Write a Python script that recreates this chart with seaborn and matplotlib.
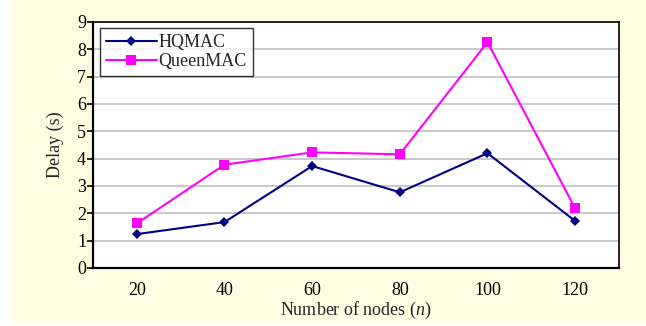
import matplotlib
matplotlib.use("Agg")
import matplotlib.pyplot as plt
import seaborn as sns
import pandas as pd
import numpy as np

nodes = ["20", "40", "60", "80", "100", "120"]
hqmac = [1.24, 1.68, 3.73, 2.77, 4.20, 1.72]
queenmac = [1.63, 3.78, 4.23, 4.16, 8.26, 2.18]

sns.set_theme(style="white")
plt.rcParams["font.family"] = ["Liberation Serif", "DejaVu Serif"]
plt.rcParams["mathtext.fontset"] = "custom"
plt.rcParams["mathtext.it"] = "Liberation Serif:italic"
plt.rcParams["mathtext.rm"] = "Liberation Serif"

FS = 13

df = pd.DataFrame({
    "nodes": nodes * 2,
    "delay": hqmac + queenmac,
    "series": ["HQMAC"] * len(nodes) + ["QueenMAC"] * len(nodes),
})

fig = plt.figure(figsize=(6.46, 3.26), dpi=100)
fig.patch.set_facecolor("white")
bg = plt.Rectangle((12 / 646, 3 / 326), 1 - 12 / 646, 1 - 3 / 326, transform=fig.transFigure,
                   facecolor="#FFFEE3", edgecolor="none", zorder=-10)
fig.patches.append(bg)

ax = fig.add_axes([93 / 646, 1 - 268 / 326, 526 / 646, 246 / 326])
ax.set_zorder(5)
ax.set_facecolor("white")

sns.lineplot(data=df, x="nodes", y="delay", hue="series", style="series",
             palette={"HQMAC": "#000080", "QueenMAC": "#FF00FF"},
             markers={"HQMAC": "D", "QueenMAC": "s"},
             dashes=False, markersize=7, linewidth=1.5,
             markeredgewidth=0, ax=ax, sort=False)
for line in ax.get_lines():
    if line.get_marker() == "D":
        line.set_markersize(5.5)

ax.set_xlim(-0.5, len(nodes) - 0.5)
ax.set_ylim(0, 9)
ax.set_yticks(range(0, 10))
ax.yaxis.grid(True, color="#C0C0C0", linewidth=1.2)
ax.set_axisbelow(True)
ax.set_xticks(range(len(nodes)))
ax.set_xticklabels(nodes)
ax.set_xticks(np.arange(-0.5, len(nodes)), minor=True)
ax.tick_params(axis="x", which="major", length=0, labelsize=FS, pad=10, colors="black")
ax.tick_params(axis="x", which="minor", length=4, width=1.2, direction="out", color="black")
ax.tick_params(axis="y", length=4, width=1.2, direction="out", labelsize=FS, pad=1, colors="black")
ax.tick_params(left=True, bottom=True)
for side in ["left", "bottom", "top", "right"]:
    ax.spines[side].set_visible(True)
    ax.spines[side].set_color("black")
ax.spines["left"].set_linewidth(1.6)
ax.spines["bottom"].set_linewidth(1.6)
ax.spines["top"].set_linewidth(1.2)
ax.spines["right"].set_linewidth(1.2)

ax.set_xlabel("Number of nodes ($n$)", fontsize=FS, labelpad=1)
ax.set_ylabel("Delay (s)", fontsize=FS, labelpad=9)

leg = ax.legend(loc="upper left", bbox_to_anchor=(0.013, 0.976), fontsize=FS,
                frameon=True, fancybox=False, handlelength=2.8, handletextpad=0.1,
                borderpad=0.35, labelspacing=0.1, borderaxespad=0)
leg.get_frame().set_edgecolor("black")
leg.get_frame().set_linewidth(1.0)
for h in leg.get_lines():
    h.set_linewidth(1.5)

fig.savefig("out.png", dpi=100)
